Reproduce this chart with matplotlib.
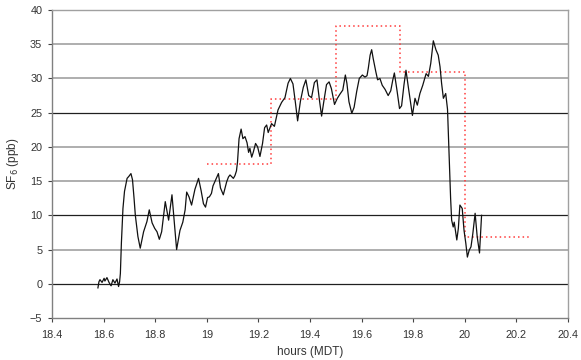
import matplotlib
matplotlib.use("Agg")
import matplotlib.pyplot as plt
import numpy as np

plt.rcParams['font.family'] = ['Liberation Sans', 'DejaVu Sans']

# measured SF6 concentration (hours MDT, ppb)
hours = [18.578, 18.582, 18.586, 18.594, 18.602, 18.605, 18.613, 18.621, 18.629, 18.636,
         18.644, 18.652, 18.658, 18.662, 18.665, 18.669, 18.675, 18.681, 18.691, 18.698,
         18.706, 18.712, 18.718, 18.723, 18.733, 18.742, 18.755, 18.768, 18.777, 18.788,
         18.798, 18.807, 18.816, 18.825, 18.839, 18.846, 18.852, 18.865, 18.873, 18.883,
         18.896, 18.907, 18.916, 18.922, 18.931, 18.941, 18.954, 18.968, 18.978, 18.987,
         18.995, 19.003, 19.010, 19.018, 19.024, 19.032, 19.045, 19.053, 19.064, 19.077,
         19.084, 19.090, 19.103, 19.109, 19.115, 19.119, 19.125, 19.133, 19.140, 19.148,
         19.156, 19.162, 19.167, 19.174, 19.180, 19.189, 19.197, 19.206, 19.216, 19.224,
         19.232, 19.238, 19.251, 19.262, 19.276, 19.290, 19.303, 19.315, 19.324, 19.334,
         19.343, 19.352, 19.363, 19.374, 19.384, 19.395, 19.406, 19.417, 19.427, 19.437,
         19.445, 19.453, 19.464, 19.474, 19.483, 19.495, 19.506, 19.516, 19.527, 19.537,
         19.543, 19.551, 19.562, 19.571, 19.581, 19.591, 19.603, 19.613, 19.621, 19.626,
         19.633, 19.639, 19.645, 19.655, 19.662, 19.671, 19.680, 19.691, 19.703, 19.713,
         19.721, 19.727, 19.737, 19.747, 19.755, 19.764, 19.772, 19.782, 19.797, 19.807,
         19.816, 19.826, 19.837, 19.850, 19.859, 19.868, 19.878, 19.888, 19.897, 19.904,
         19.910, 19.917, 19.926, 19.933, 19.939, 19.945, 19.949, 19.955, 19.959, 19.969,
         19.975, 19.981, 19.990, 19.997, 20.004, 20.010, 20.017, 20.024, 20.031, 20.040,
         20.048, 20.057, 20.065]
sf6 = [-0.6, 0.3, 0.6, 0.2, 0.8, 0.4, 0.9, 0.2, -0.3, 0.6,
       0.1, 0.7, -0.4, 0.3, 1.5, 6.0, 11.0, 13.5, 15.4, 15.7,
       16.1, 15.2, 12.5, 10.0, 6.9, 5.2, 7.6, 9.1, 10.8, 8.9,
       8.1, 7.6, 6.5, 7.6, 12.0, 10.5, 9.3, 13.0, 9.5, 5.0,
       7.8, 9.0, 10.8, 13.4, 12.7, 11.5, 13.8, 15.4, 13.6, 11.7,
       11.2, 12.6, 12.7, 13.2, 14.3, 15.0, 16.1, 14.0, 13.0, 14.9,
       15.6, 15.9, 15.4, 15.8, 16.5, 17.8, 21.2, 22.6, 21.2, 21.5,
       20.6, 19.2, 19.8, 18.5, 19.2, 20.5, 20.0, 18.6, 20.5, 22.8,
       23.2, 22.1, 23.4, 23.0, 25.4, 26.5, 27.2, 29.3, 30.0, 29.2,
       26.6, 23.8, 26.7, 28.7, 29.8, 27.5, 27.2, 29.4, 29.8, 26.7,
       24.5, 26.5, 29.1, 29.5, 28.5, 26.2, 27.1, 27.7, 28.3, 30.5,
       29.3, 26.6, 24.9, 25.8, 28.1, 30.0, 30.5, 30.2, 30.4, 31.5,
       33.4, 34.2, 32.9, 31.0, 29.8, 30.0, 29.0, 28.4, 27.5, 28.2,
       29.8, 30.8, 28.3, 25.6, 26.0, 29.0, 31.2, 28.5, 24.6, 27.1,
       26.1, 27.8, 29.0, 30.7, 30.3, 32.2, 35.5, 34.2, 33.4, 31.7,
       29.3, 27.1, 27.8, 25.5, 19.0, 12.5, 9.3, 8.3, 9.0, 6.4,
       8.1, 11.5, 11.0, 7.8, 5.9, 3.9, 4.9, 5.4, 7.3, 10.3,
       6.9, 4.5, 10.0]

# modelled step values (dotted red)
step_hours = [19.0, 19.25, 19.5, 19.75, 20.0, 20.25]
step_vals = [17.5, 27.0, 37.7, 31.0, 6.9, 6.9]

xticks = [18.4, 18.6, 18.8, 19.0, 19.2, 19.4, 19.6, 19.8, 20.0, 20.2, 20.4]
xticklabels = ['18.4', '18.6', '18.8', '19', '19.2', '19.4', '19.6', '19.8', '20', '20.2', '20.4']
yticks = [-5, 0, 5, 10, 15, 20, 25, 30, 35, 40]

fig = plt.figure(figsize=(5.81, 3.60), dpi=100)
ax = fig.add_axes([52/581, 1-318/360, (568-52)/581, (318-10)/360])

for yv in yticks[1:]:
    if yv in (0, 10, 25):
        ax.axhline(yv, color='#202020', lw=0.9, zorder=1)
    else:
        ax.axhline(yv, color='#a8a8a8', lw=1.3, zorder=1)

ax.step(step_hours, step_vals, where='post', color='#ff3c3c', lw=1.1,
        linestyle=(0, (1, 2.0)), zorder=2)
ax.plot(hours, sf6, color='#111111', lw=0.9, zorder=3)

ax.set_xlim(18.4, 20.4)
ax.set_ylim(-5, 40)
ax.set_xticks(xticks)
ax.set_xticklabels(xticklabels)
ax.set_yticks(yticks)
ax.tick_params(axis='both', labelsize=7.8, colors='#444444', length=3, width=0.8,
               direction='out')
ax.tick_params(axis='x', pad=6)
ax.tick_params(axis='y', pad=4)
ax.tick_params(axis='both', labelcolor='#333333')
for s in ax.spines.values():
    s.set_color('#a0a0a0')
    s.set_linewidth(1.0)
ax.spines['left'].set_color('#808080')
ax.spines['bottom'].set_color('#808080')

ax.set_xlabel('hours (MDT)', fontsize=8.5, color='#333333', labelpad=4)
ax.set_ylabel('SF$_6$ (ppb)', fontsize=8.5, color='#333333', labelpad=6)

fig.savefig('out.png', dpi=100, facecolor='white')
